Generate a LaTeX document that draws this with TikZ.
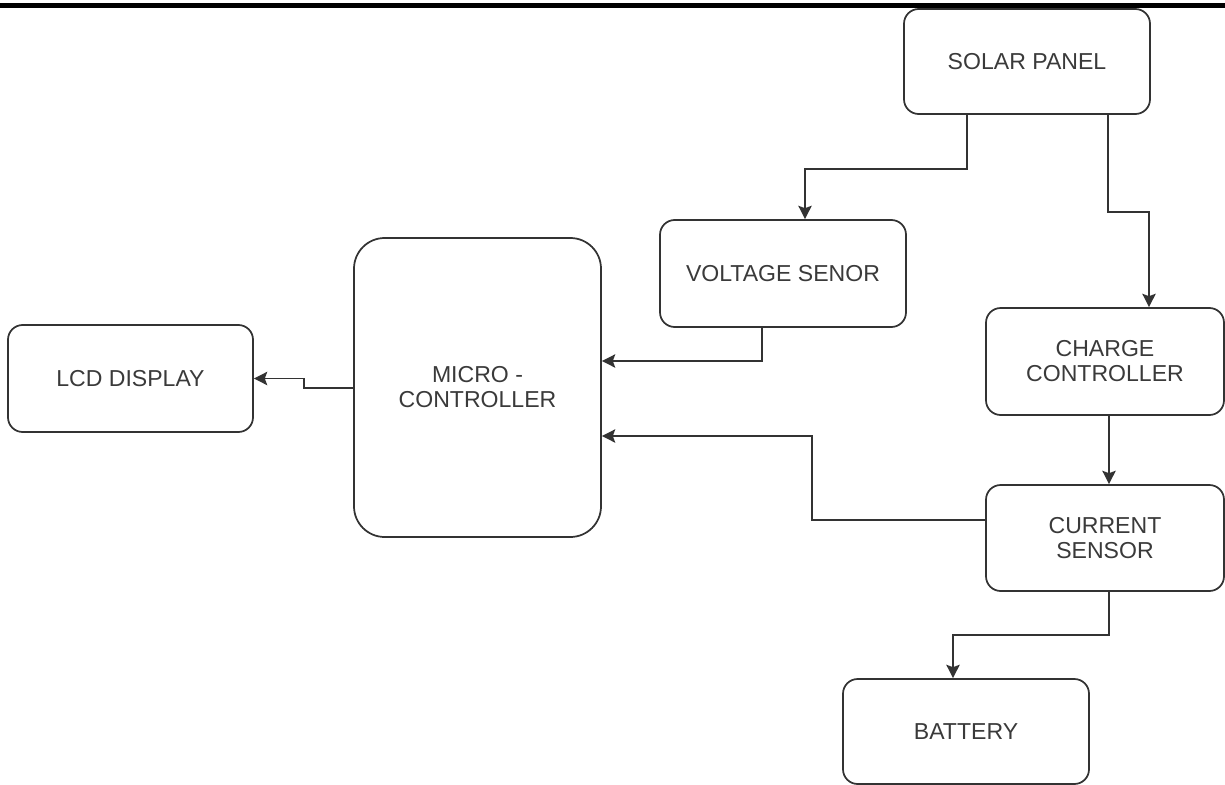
\documentclass[tikz,border=0pt]{standalone}
\usepackage{fontspec}
\setmainfont{Liberation Sans}
\usetikzlibrary{arrows.meta}
\definecolor{linec}{HTML}{333333}
\definecolor{textc}{HTML}{3A3A3A}
\begin{document}
\begin{tikzpicture}[x=0.75pt,y=-0.75pt,
  box/.style={draw=linec, line width=1.3pt, rounded corners=11pt, inner sep=0pt,
    text=textc, align=center, font=\fontsize{17.3}{18.8}\selectfont},
  arr/.style={draw=linec, line width=1.3pt, -{Stealth[length=10pt,width=10pt,inset=1.8pt]}}]
\useasboundingbox (0,0) rectangle (1225,785);
\fill[black] (0,3) rectangle (1225,8);
% nodes
\node[box, minimum width=184.5pt, minimum height=78.75pt] (solar) at (1027,61.5) {SOLAR PANEL};
\node[box, minimum width=184.5pt, minimum height=80.25pt] (volt) at (783,273.5) {VOLTAGE SENOR};
\node[box, minimum width=178.5pt, minimum height=80.25pt] (charge) at (1105,361.5) {CHARGE\\CONTROLLER};
\node[box, minimum width=178.5pt, minimum height=79.5pt] (current) at (1105,538) {CURRENT\\SENSOR};
\node[box, minimum width=185.25pt, minimum height=224.25pt, rounded corners=23pt] (micro) at (477.5,387.5) {MICRO -\\CONTROLLER};
\node[box, minimum width=183.75pt, minimum height=80.25pt] (lcd) at (130.5,378.5) {LCD DISPLAY};
\node[box, minimum width=184.5pt, minimum height=78.75pt] (battery) at (966,731.5) {BATTERY};
% helper coordinates
\coordinate (xa) at (967,0);
\coordinate (xb) at (805,0);
\coordinate (xc) at (1108,0);
\coordinate (xd) at (1149,0);
\coordinate (xe) at (762,0);
\coordinate (ye) at (0,361);
\coordinate (xf) at (1109,0);
\coordinate (yg) at (0,520);
\coordinate (yi) at (0,436);
\coordinate (xj) at (953,0);
\coordinate (yk) at (0,388);
% connectors
\draw[arr] (solar.south -| xa) -- ++(0,54) -| (volt.north -| xb);
\draw[arr] (solar.south -| xc) -- ++(0,97) -| (charge.north -| xd);
\draw[arr] (volt.south -| xe) |- (micro.east |- ye);
\draw[arr] (charge.south -| xf) -- (current.north -| xf);
\draw[arr] (current.west |- yg) -- ++(-173,0) |- (micro.east |- yi);
\draw[arr] (current.south -| xf) -- ++(0,43) -| (battery.north -| xj);
\draw[arr] (micro.west |- yk) -- ++(-49,0) |- (lcd.east);
\end{tikzpicture}
\end{document}
